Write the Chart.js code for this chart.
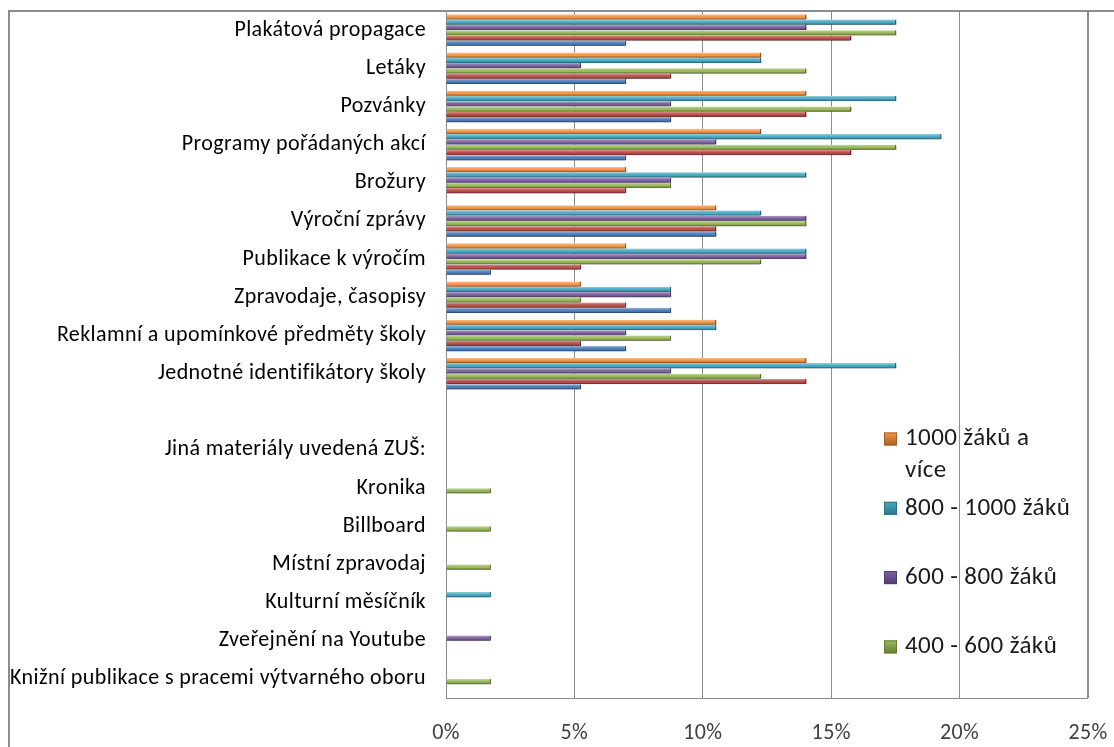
<!DOCTYPE html>
<html>
<head>
<meta charset="utf-8">
<script src="https://cdn.jsdelivr.net/npm/chart.js@4/dist/chart.umd.min.js"></script>
<style>
  html, body { margin: 0; padding: 0; background: #ffffff; }
  #wrap { width: 1114px; height: 747px; position: relative; }
</style>
</head>
<body>
<div id="wrap"><canvas id="c" width="1114" height="747"></canvas></div>
<script>
// Propagační materiály podle velikosti ZUŠ (podíl škol v %)
const categories = [
  'Plakátová propagace',
  'Letáky',
  'Pozvánky',
  'Programy pořádaných akcí',
  'Brožury',
  'Výroční zprávy',
  'Publikace k výročím',
  'Zpravodaje, časopisy',
  'Reklamní a upomínkové předměty školy',
  'Jednotné identifikátory školy',
  '',
  'Jiná materiály uvedená ZUŠ:',
  'Kronika',
  'Billboard',
  'Místní zpravodaj',
  'Kulturní měsíčník',
  'Zveřejnění na Youtube',
  'Knižní publikace s pracemi výtvarného oboru'
];

const seriesLabels = ['1000 žáků a více', '800 - 1000 žáků', '600 - 800 žáků', '400 - 600 žáků', '200 - 400 žáků', 'do 200 žáků'];
const seriesColors = ['#F79646', '#4BACC6', '#8064A2', '#9BBB59', '#C0504D', '#4F81BD'];
const seriesEdges  = ['#a85d24', '#2a7387', '#4f3b6e', '#627d32', '#7f2c2a', '#2e5584'];

const zaku1000 = [14.04, 12.28, 14.04, 12.28, 7.02, 10.53, 7.02, 5.26, 10.53, 14.04, null, null, null, null, null, null, null, null];
const zaku800  = [17.54, 12.28, 17.54, 19.30, 14.04, 12.28, 14.04, 8.77, 10.53, 17.54, null, null, null, null, null, 1.75, null, null];
const zaku600  = [14.04, 5.26, 8.77, 10.53, 8.77, 14.04, 14.04, 8.77, 7.02, 8.77, null, null, null, null, null, null, 1.75, null];
const zaku400  = [17.54, 14.04, 15.79, 17.54, 8.77, 14.04, 12.28, 5.26, 8.77, 12.28, null, null, 1.75, 1.75, 1.75, null, null, 1.75];
const zaku200  = [15.79, 8.77, 14.04, 15.79, 7.02, 10.53, 5.26, 7.02, 5.26, 14.04, null, null, null, null, null, null, null, null];
const zakuDo200 = [7.02, 7.02, 8.77, 7.02, null, 10.53, 1.75, 8.77, 7.02, 5.26, null, null, null, null, null, null, null, null];

const seriesValues = [zaku1000, zaku800, zaku600, zaku400, zaku200, zakuDo200];

const tickValues = [0, 5, 10, 15, 20, 25];
const tickLabels = ['0%', '5%', '10%', '15%', '20%', '25%'];
const legendCount = 4;

const FONT = 'Carlito, Lato, "Open Sans", sans-serif';
const FRAME = '#8c8c8c';

// white background, outer frame and plot-area border
const framePlugin = {
  id: 'frame',
  beforeDraw(chart) {
    const ctx = chart.ctx;
    ctx.fillStyle = '#ffffff';
    ctx.fillRect(0, 0, chart.width, chart.height);
    if ('letterSpacing' in ctx) ctx.letterSpacing = '0.4px';
  },
  beforeDatasetsDraw(chart) {
    const { ctx, chartArea: a } = chart;
    ctx.save();
    ctx.strokeStyle = FRAME;
    ctx.lineWidth = 1;
    ctx.strokeRect(a.left + 0.5, a.top + 0.5, a.right - a.left - 1, a.bottom - a.top);
    ctx.restore();
    // soft drop shadow under the bars
    ctx.save();
    ctx.shadowColor = 'rgba(0,0,0,0.4)';
    ctx.shadowBlur = 4;
    ctx.shadowOffsetX = 2;
    ctx.shadowOffsetY = 3;
  },
  afterDatasetsDraw(chart) {
    const ctx = chart.ctx;
    ctx.restore();
    // bevel highlight / shade on each bar
    chart.data.datasets.forEach((ds, di) => {
      const meta = chart.getDatasetMeta(di);
      meta.data.forEach((bar, i) => {
        if (ds.data[i] == null) return;
        const p = bar.getProps(['x', 'y', 'base', 'height'], true);
        const top = p.y - p.height / 2;
        const left = Math.min(p.base, p.x);
        const w = Math.abs(p.x - p.base) - 1.5;
        const g = ctx.createLinearGradient(0, top, 0, top + p.height);
        g.addColorStop(0, 'rgba(255,255,255,0.45)');
        g.addColorStop(0.35, 'rgba(255,255,255,0.08)');
        g.addColorStop(0.6, 'rgba(0,0,0,0)');
        g.addColorStop(0.8, 'rgba(0,0,0,0.22)');
        g.addColorStop(1, 'rgba(0,0,0,0.5)');
        ctx.save();
        ctx.fillStyle = g;
        ctx.fillRect(left, top, w, p.height);
        ctx.restore();
      });
    });
    // outer frame (top and left edges)
    ctx.save();
    ctx.strokeStyle = FRAME;
    ctx.lineWidth = 2;
    ctx.beginPath();
    ctx.moveTo(9, chart.height);
    ctx.lineTo(9, 11);
    ctx.lineTo(chart.width, 11);
    ctx.stroke();
    ctx.restore();
  }
};

// legend drawn inside the plot area
const legendPlugin = {
  id: 'insideLegend',
  afterDraw(chart) {
    const ctx = chart.ctx;
    const x0 = 884, textX = 905, y0 = 439, step = 69.3, lineH = 32, maxW = 168;
    ctx.save();
    ctx.font = '25px ' + FONT;
    ctx.textBaseline = 'middle';
    for (let i = 0; i < legendCount; i++) {
      const cy = y0 + i * step;
      // marker
      const s = 13;
      const mx = x0, my = cy - s / 2;
      const g = ctx.createLinearGradient(0, my, 0, my + s);
      g.addColorStop(0, seriesColors[i]);
      g.addColorStop(1, seriesEdges[i]);
      ctx.fillStyle = g;
      ctx.fillRect(mx, my, s, s);
      ctx.strokeStyle = seriesEdges[i];
      ctx.lineWidth = 1;
      ctx.strokeRect(mx + 0.5, my + 0.5, s - 1, s - 1);
      // wrapped text
      ctx.fillStyle = '#1a1a1a';
      const words = seriesLabels[i].split(' ');
      const lines = [];
      let cur = '';
      words.forEach(w => {
        const t = cur ? cur + ' ' + w : w;
        if (ctx.measureText(t).width > maxW && cur) { lines.push(cur); cur = w; }
        else cur = t;
      });
      if (cur) lines.push(cur);
      lines.forEach((ln, k) => ctx.fillText(ln, textX, cy + k * lineH));
    }
    ctx.restore();
  }
};

const datasets = seriesValues.map((vals, i) => ({
  label: seriesLabels[i],
  data: vals,
  backgroundColor: seriesColors[i],
  borderColor: seriesEdges[i],
  borderWidth: { top: 0, bottom: 0, left: 0, right: 1.5 },
  borderSkipped: false,
  categoryPercentage: 0.83,
  barPercentage: 0.98
}));

new Chart(document.getElementById('c'), {
  type: 'bar',
  data: { labels: categories, datasets },
  options: {
    indexAxis: 'y',
    responsive: false,
    animation: false,
    devicePixelRatio: 1,
    layout: { padding: { left: 0, top: 11, right: 26, bottom: 0 } },
    plugins: { legend: { display: false }, tooltip: { enabled: false } },
    scales: {
      x: {
        position: 'bottom',
        min: 0,
        max: 25,
        afterBuildTicks(scale) { scale.ticks = tickValues.map(v => ({ value: v })); },
        afterFit(scale) {
          scale.height = 49;
          scale.paddingLeft = 0; scale.paddingRight = 0;
          scale.paddingTop = 0; scale.paddingBottom = 0;
        },
        grid: { color: FRAME, lineWidth: 1, drawTicks: false },
        border: { display: false },
        ticks: {
          padding: 22,
          color: '#404040',
          font: { family: FONT, size: 22 },
          callback: (v) => tickLabels[tickValues.indexOf(v)]
        }
      },
      y: {
        afterFit(scale) {
          scale.width = 446;
          scale.paddingLeft = 0; scale.paddingRight = 0;
          scale.paddingTop = 0; scale.paddingBottom = 0;
        },
        grid: { display: false, drawTicks: false },
        border: { display: false },
        ticks: {
          padding: 20,
          autoSkip: false,
          color: '#000000',
          font: { family: FONT, size: 22 }
        }
      }
    }
  },
  plugins: [framePlugin, legendPlugin]
});
</script>
</body>
</html>
